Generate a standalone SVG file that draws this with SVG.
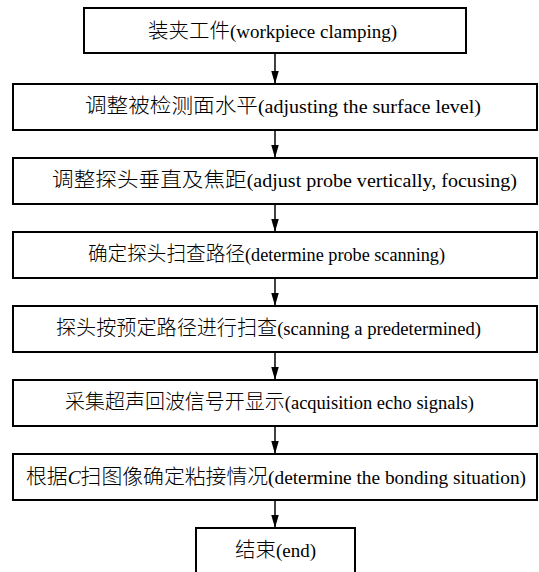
<svg xmlns="http://www.w3.org/2000/svg" width="539" height="572" viewBox="0 0 539 572">
<style>
.box{fill:#fff;stroke:#000;stroke-width:2}
.t{font-family:"Liberation Serif","Noto Sans CJK SC",serif;font-size:19px;fill:#000}
.z{font-family:"Noto Sans CJK SC",sans-serif;font-size:20.5px;font-weight:300}
.c{stroke:#000;stroke-width:1.5;fill:none}
</style>
<defs>
<marker id="ah" markerUnits="userSpaceOnUse" markerWidth="13" markerHeight="8" refX="13" refY="3.75" orient="auto">
<path d="M0,0 L13,3.75 L0,7.5 z" fill="#000"/>
</marker>
</defs>
<rect width="539" height="572" fill="#fff"/>
<g id="connectors">
<line class="c" x1="275" y1="53" x2="275" y2="84" marker-end="url(#ah)"/>
<line class="c" x1="275" y1="130" x2="275" y2="158" marker-end="url(#ah)"/>
<line class="c" x1="275" y1="204" x2="275" y2="232" marker-end="url(#ah)"/>
<line class="c" x1="275" y1="278" x2="275" y2="306" marker-end="url(#ah)"/>
<line class="c" x1="275" y1="352" x2="275" y2="380" marker-end="url(#ah)"/>
<line class="c" x1="275" y1="426" x2="275" y2="454" marker-end="url(#ah)"/>
<line class="c" x1="275" y1="500" x2="275" y2="528" marker-end="url(#ah)"/>
</g>
<g id="n1"><rect class="box" x="84" y="8" width="382" height="45"/>
<text class="t" x="148" y="38" textLength="249" lengthAdjust="spacingAndGlyphs"><tspan class="z">装夹工件</tspan>(workpiece clamping)</text></g>
<g id="n2"><rect class="box" x="13" y="84" width="524" height="46"/>
<text class="t" x="85" y="113" textLength="396" lengthAdjust="spacingAndGlyphs"><tspan class="z">调整被检测面水平</tspan>(adjusting the surface level)</text></g>
<g id="n3"><rect class="box" x="13" y="158" width="524" height="46"/>
<text class="t" x="52" y="187" textLength="465" lengthAdjust="spacingAndGlyphs"><tspan class="z">调整探头垂直及焦距</tspan>(adjust probe vertically, focusing)</text></g>
<g id="n4"><rect class="box" x="13" y="232" width="524" height="46"/>
<text class="t" x="88" y="261" textLength="357" lengthAdjust="spacingAndGlyphs"><tspan class="z">确定探头扫查路径</tspan>(determine probe scanning)</text></g>
<g id="n5"><rect class="box" x="13" y="306" width="524" height="46"/>
<text class="t" x="56" y="335" textLength="425" lengthAdjust="spacingAndGlyphs"><tspan class="z">探头按预定路径进行扫查</tspan>(scanning a predetermined)</text></g>
<g id="n6"><rect class="box" x="13" y="380" width="524" height="46"/>
<text class="t" x="65" y="409" textLength="409" lengthAdjust="spacingAndGlyphs"><tspan class="z">采集超声回波信号开显示</tspan>(acquisition echo signals)</text></g>
<g id="n7"><rect class="box" x="13" y="454" width="524" height="46"/>
<text class="t" x="26" y="484" textLength="500" lengthAdjust="spacingAndGlyphs"><tspan class="z">根据</tspan><tspan font-style="italic">C</tspan><tspan class="z">扫图像确定粘接情况</tspan>(determine the bonding situation)</text></g>
<g id="n8"><rect class="box" x="196" y="528" width="159" height="60"/>
<text class="t" x="235" y="557" textLength="81" lengthAdjust="spacingAndGlyphs"><tspan class="z">结束</tspan>(end)</text></g>
</svg>
